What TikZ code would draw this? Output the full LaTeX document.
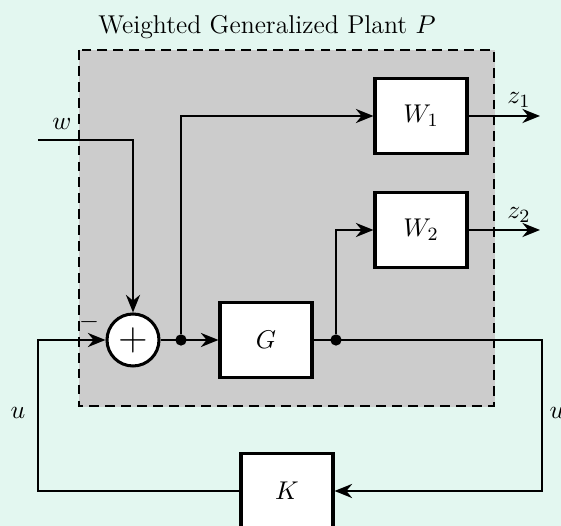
\documentclass[tikz,border=0pt]{standalone}
\usepackage{amsmath,amssymb}
\usepackage{tikz}
\usepackage{xcolor}
\usetikzlibrary{arrows.meta}
\definecolor{bgmint}{RGB}{227,247,240}
\definecolor{plantgray}{RGB}{204,204,204}

\begin{document}
\begin{tikzpicture}[x=0.015cm, y=-0.015cm, font=\fontsize{11}{13}\selectfont,
  block/.style={draw, line width=1.3pt, fill=white, minimum width=1.38cm, minimum height=1.13cm},
  sumnode/.style={draw, line width=1.3pt, circle, fill=white, minimum size=0.78cm, inner sep=0pt},
  dot/.style={circle, fill=black, minimum size=0.17cm, inner sep=0pt},
  sig/.style={line width=1pt, -{Stealth[length=7.5pt, width=6pt]}}]
  \fill[bgmint] (0,0) rectangle (561,526); \useasboundingbox (0,0) rectangle (561,526);
  \draw[plantgray, fill=plantgray] (79,50) rectangle (494,406); \draw[line width=1.2pt, dash pattern=on 4.2pt off 2.6pt] (79,50) rectangle (494,406);
  \node (title) at (267,27) {Weighted Generalized Plant $P$};
  \node[sumnode] (sum) at (133,340) {\LARGE $+$}; \node[block] (G) at (266,340) {$G$};
  \node[block] (W1) at (421,116) {$W_1$}; \node[block] (W2) at (421,230) {$W_2$}; \node[block] (K) at (287,491) {$K$};
  \node[dot] (br1) at (181,340) {}; \node[dot] (br2) at (336,340) {};
  \coordinate (win) at (38,140); \coordinate (z1out) at (540,116); \coordinate (z2out) at (540,230);
  \coordinate (yturn) at (542,340); \coordinate (uturn) at (38,340);
  \draw[sig] (win) -| (sum.north); \draw[sig] (sum) -- (G); \draw[sig] (br1) |- (W1.west); \draw[sig] (br2) |- (W2.west);
  \draw[sig] (W1) -- (z1out); \draw[sig] (W2) -- (z2out);
  \draw[sig] (G) -- (yturn) |- (K); \draw[sig] (K) -| (uturn) -- (sum);
  \node (lw) at (62,124) {$w$}; \node (lz1) at (519,100) {$z_1$}; \node (lz2) at (519,215) {$z_2$};
  \node (lminus) at (89,322) {$-$}; \node (lu1) at (18,413) {$u$}; \node (lu2) at (557,413) {$u$};
\end{tikzpicture}
\end{document}
